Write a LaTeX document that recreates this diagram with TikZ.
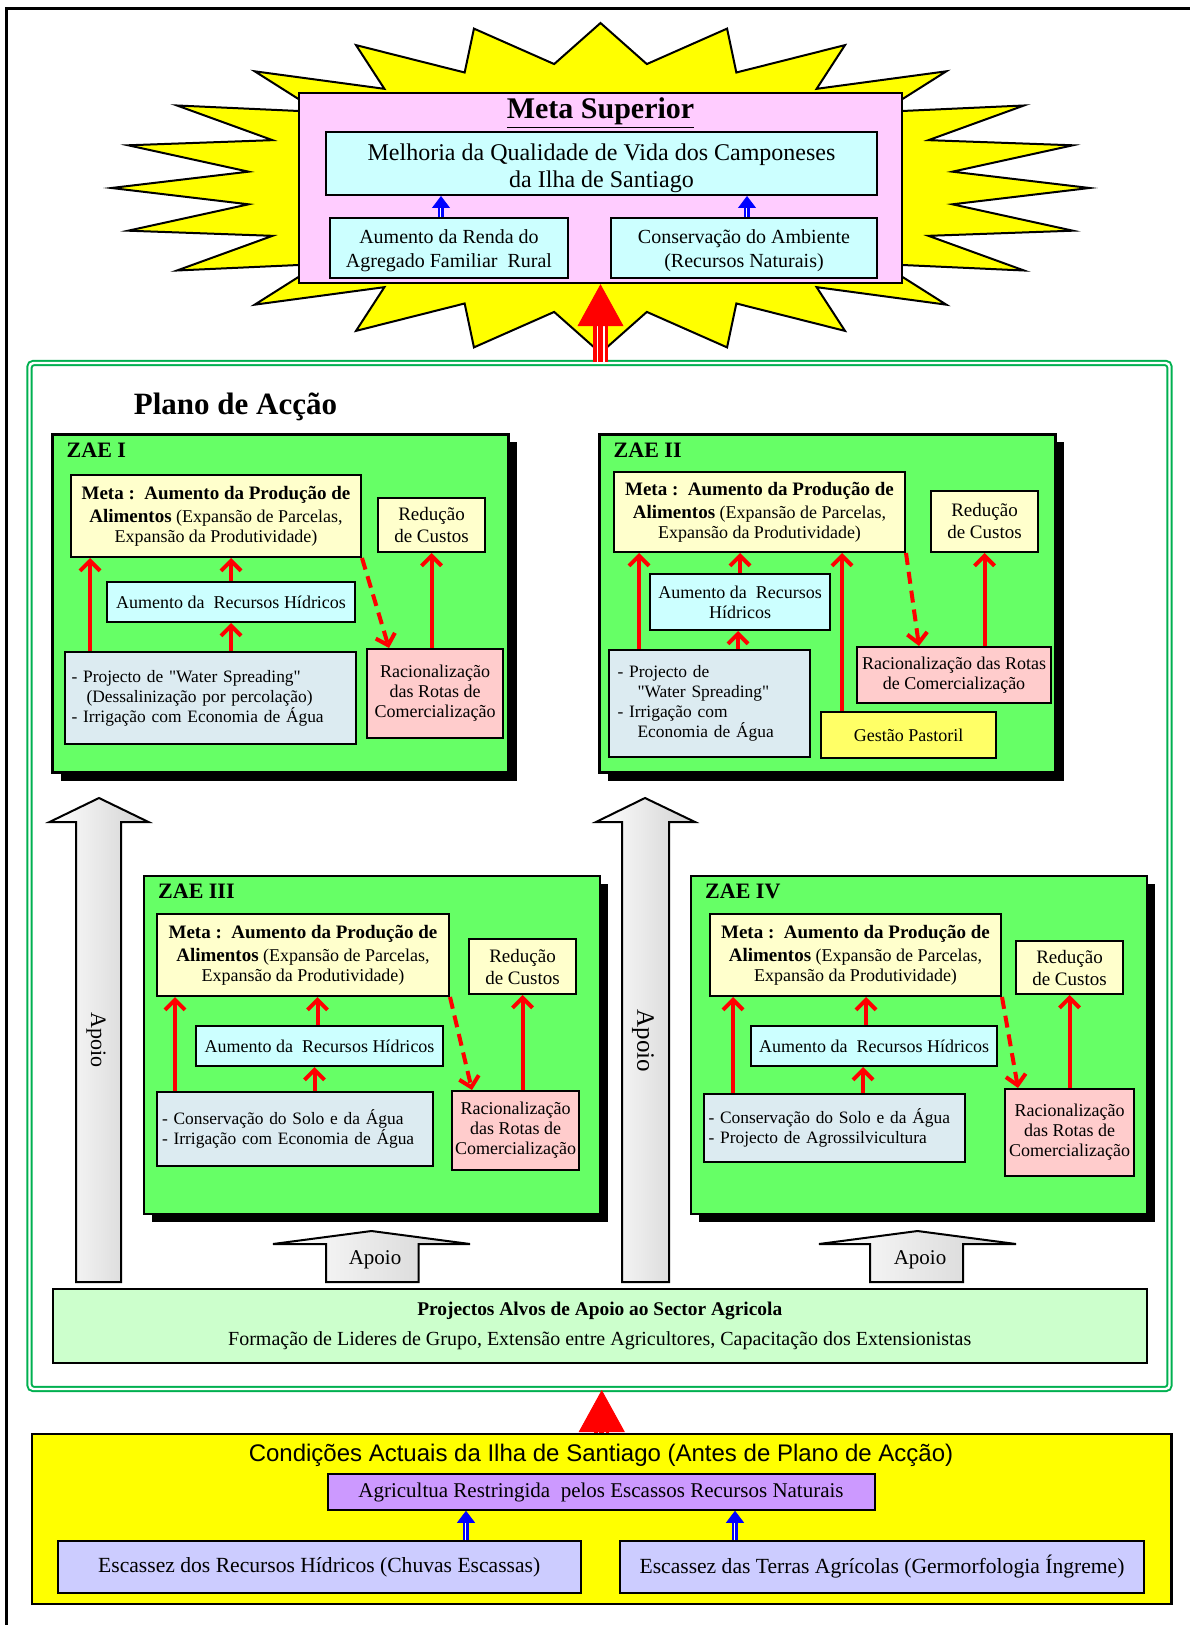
\documentclass[tikz,border=0pt]{standalone}
\usepackage{fontspec}
\setmainfont{Liberation Serif}
\setsansfont{Liberation Sans}
\usetikzlibrary{arrows.meta,shadows}

\definecolor{staryellow}{HTML}{FFFF00}
\definecolor{suppink}{HTML}{FFCCFF}
\definecolor{boxcyan}{HTML}{CCFFFF}
\definecolor{framegreen}{HTML}{00B050}
\definecolor{zaegreen}{HTML}{66FF66}
\definecolor{metacream}{HTML}{FFFFCC}
\definecolor{projblue}{HTML}{DCEBF1}
\definecolor{racpink}{HTML}{FFCCCC}
\definecolor{gestyellow}{HTML}{FFFF66}
\definecolor{alvosgreen}{HTML}{CCFFCC}
\definecolor{condyellow}{HTML}{FFFF00}
\definecolor{agrpurple}{HTML}{CC99FF}
\definecolor{escblue}{HTML}{CCCCFF}

\newcommand{\metatext}{{\bfseries\fontsize{9.5}{11}\selectfont Meta :~~Aumento da Produção de}\\[1.5pt]
  {\bfseries\fontsize{9.5}{10}\selectfont Alimentos} (Expansão de Parcelas,\\Expansão da Produtividade)}

\tikzset{
  box/.style={draw, line width=1pt, inner sep=1pt, align=center},
  zae/.style={draw, line width=1.2pt, fill=zaegreen, minimum width=228pt, minimum height=169pt,
    general shadow={fill=black, shadow xshift=4pt, shadow yshift=-4pt}},
  zaelabel/.style={anchor=base west, inner sep=0pt, font=\bfseries\fontsize{11}{13}\selectfont},
  metabox/.style={box, fill=metacream, font=\fontsize{9}{10}\selectfont},
  redubox/.style={box, fill=metacream, font=\fontsize{9.5}{11}\selectfont},
  aumbox/.style={box, fill=boxcyan, font=\fontsize{9}{10}\selectfont},
  projbox/.style={box, fill=projblue, align=left, inner xsep=2pt, font=\fontsize{8.7}{10}\selectfont},
  racbox/.style={box, fill=racpink, font=\fontsize{9}{10}\selectfont},
  redarr/.style={draw=red, line width=2pt, -{Straight Barb[length=5pt,width=10pt]}},
  reddash/.style={redarr, dash pattern=on 6pt off 3.5pt},
  blueshaft/.style={draw=blue, line width=.7pt, double=white, double distance=1.2pt, shorten >=5pt},
  bluehead/.style={draw=blue, line width=.4pt, -{Triangle[length=6pt,width=9pt]}},
  redtriple/.style={draw=red, line width=1.75pt, double=white, double distance=4pt},
  redmid/.style={draw=red, line width=2.5pt},
  bighead/.style={draw=red, line width=.4pt, -{Triangle[length=21pt,width=23pt]}},
  apoio/.style={draw, line width=1pt, left color=white, right color=black!18},
}

\begin{document}
\begin{tikzpicture}[x=0.5pt, y=-0.5pt]
  \useasboundingbox (0,0) rectangle (1189,1625);
  \draw[line width=1.7pt] (6.7,1640) -- (6.7,8.3) -- (1200,8.3);

  % meta superior
  \filldraw[fill=staryellow, line width=1pt, shift={(600.5,188)}]
    (0:489 and 165) \foreach \a in {0,15,...,345} { -- (\a:489 and 165) -- (\a+7.5:355 and 125) } -- cycle;
  \node[box, fill=suppink, line width=1.2pt, minimum width=301.5pt, minimum height=95pt] (sup) at (600.5,188) {};
  \node[box, fill=boxcyan, minimum width=275.5pt, minimum height=31.5pt, font=\fontsize{12}{13.5}\selectfont] (melhoria) at (601.5,163.5)
    {\rule{0pt}{13pt}Melhoria da Qualidade de Vida dos Camponeses\\da Ilha de Santiago};
  \node[font=\bfseries\fontsize{15}{18}\selectfont] (suptitle) at (600.5,113) {\underline{Meta Superior}};
  \node[box, fill=boxcyan, minimum width=119pt, minimum height=30pt, font=\fontsize{10}{12}\selectfont] (renda) at (449,248)
    {\rule{0pt}{10pt}Aumento da Renda do\\Agregado Familiar~~Rural};
  \node[box, fill=boxcyan, minimum width=133pt, minimum height=30pt, font=\fontsize{10}{12}\selectfont] (ambiente) at (744,248)
    {\rule{0pt}{10pt}Conservação do Ambiente\\(Recursos Naturais)};

  \draw[blueshaft] ([xshift=-4pt]renda.north) -- ([xshift=-4pt]renda.north |- melhoria.south);
  \draw[bluehead] ([xshift=-4pt]renda.north) -- ([xshift=-4pt]renda.north |- melhoria.south);
  \draw[blueshaft] ([xshift=1.5pt]ambiente.north) -- ([xshift=1.5pt]ambiente.north |- melhoria.south);
  \draw[bluehead] ([xshift=1.5pt]ambiente.north) -- ([xshift=1.5pt]ambiente.north |- melhoria.south);

  % plano de accao
  \node[draw=framegreen, double=white, double distance=1.2pt, line width=1pt, rounded corners=2pt,
    minimum width=570pt, minimum height=513pt] (plano) at (599.5,876) {};
  \node[font=\bfseries\fontsize{15.5}{18}\selectfont] (planotitle) at (235.5,407) {Plano de Acção};

  \draw[redtriple] (sup.south |- plano.north) -- ([yshift=-20pt]sup.south);
  \draw[redmid] (sup.south |- plano.north) -- ([yshift=-20pt]sup.south);
  \draw[bighead] (sup.south |- plano.north) -- (sup.south);

  % ZAE I
  \node[zae] (zae1) at (280.5,603.5) {};
  \node[zaelabel] (lab1) at ([xshift=7.5pt,yshift=-12pt]zae1.north west) {ZAE I};
  \node[metabox, minimum width=145pt, minimum height=41pt] (meta1) at (216,516) {\metatext};
  \node[redubox, minimum width=53.5pt, minimum height=27pt] (redu1) at (431.5,525) {Redução\\de Custos};
  \node[aumbox, minimum width=124pt, minimum height=20pt] (aum1) at (231,602) {Aumento da~~Recursos Hídricos};
  \node[projbox, minimum width=145.5pt, minimum height=46pt, text width=139pt, inner xsep=3.25pt] (proj1) at (210.5,698)
    {- Projecto de \textquotedbl Water Spreading\textquotedbl\\\hspace*{7.5pt}(Dessalinização por percolação)\\- Irrigação com Economia de Água};
  \node[racbox, minimum width=68pt, minimum height=44.5pt] (rac1) at (435,693.5) {Racionalização\\das Rotas de\\Comercialização};

  \draw[redarr] ([xshift=13pt]proj1.north west) -- ([xshift=13pt]proj1.north west |- meta1.south);
  \draw[redarr] (aum1.south |- proj1.north) -- (aum1.south);
  \draw[redarr] (aum1.north) -- (aum1.north |- meta1.south);
  \draw[reddash] (meta1.south east) -- ([xshift=11.5pt]rac1.north west);
  \draw[redarr] (redu1.south |- rac1.north) -- (redu1.south);

  % ZAE II
  \node[zae] (zae2) at (827.5,603.5) {};
  \node[zaelabel] (lab2) at ([xshift=7.5pt,yshift=-12pt]zae2.north west) {ZAE II};
  \node[metabox, minimum width=145.5pt, minimum height=40pt] (meta2) at (759.5,512) {\metatext};
  \node[redubox, minimum width=53.5pt, minimum height=30.5pt] (redu2) at (984.5,521.5) {Redução\\de Custos};
  \node[aumbox, minimum width=90pt, minimum height=28pt] (aum2) at (740,602) {Aumento da~~Recursos\\Hídricos};
  \node[projbox, minimum width=100.5pt, minimum height=53.5pt, text width=92pt, inner xsep=4.25pt] (proj2) at (709.5,703.5)
    {- Projecto de\\\hspace*{10pt}\textquotedbl Water Spreading\textquotedbl\\- Irrigação com\\\hspace*{10pt}Economia de Água};
  \node[racbox, minimum width=97pt, minimum height=28pt] (rac2) at (954,675) {Racionalização das Rotas\\de Comercialização};
  \node[box, fill=gestyellow, minimum width=87.5pt, minimum height=23pt, font=\fontsize{9}{10}\selectfont] (gest2) at (908.5,735) {Gestão Pastoril};

  \draw[redarr] ([xshift=15.5pt]proj2.north west) -- ([xshift=15.5pt]proj2.north west |- meta2.south);
  \draw[redarr] ([xshift=-1pt]aum2.south |- proj2.north) -- ([xshift=-1pt]aum2.south);
  \draw[redarr] (aum2.north) -- (aum2.north |- meta2.south);
  \draw[redarr] ([xshift=11pt]gest2.north west) -- ([xshift=11pt]gest2.north west |- meta2.south);
  \draw[reddash] (meta2.south east) -- ([xshift=31.5pt]rac2.north west);
  \draw[redarr] (redu2.south |- rac2.north) -- (redu2.south);

  % ZAE III
  \node[zae] (zae3) at (372,1045) {};
  \node[zaelabel] (lab3) at ([xshift=7.5pt,yshift=-12pt]zae3.north west) {ZAE III};
  \node[metabox, minimum width=146pt, minimum height=41pt] (meta3) at (303,955) {\metatext};
  \node[redubox, minimum width=53.5pt, minimum height=27.5pt] (redu3) at (522.5,966.5) {Redução\\de Custos};
  \node[aumbox, minimum width=123.5pt, minimum height=20pt] (aum3) at (319.5,1046) {Aumento da~~Recursos Hídricos};
  \node[projbox, minimum width=138pt, minimum height=37pt, text width=133pt, inner xsep=2.5pt] (proj3) at (295,1129)
    {- Conservação do Solo e da Água\\- Irrigação com Economia de Água};
  \node[racbox, minimum width=63.5pt, minimum height=39.5pt] (rac3) at (515.5,1130.5) {Racionalização\\das Rotas de\\Comercialização};

  \draw[redarr] ([xshift=9.5pt]proj3.north west) -- ([xshift=9.5pt]proj3.north west |- meta3.south);
  \draw[redarr] ([xshift=-2.5pt]aum3.south |- proj3.north) -- ([xshift=-2.5pt]aum3.south);
  \draw[redarr] ([xshift=-1pt]aum3.north) -- ([xshift=-1pt]aum3.north |- meta3.south);
  \draw[reddash] (meta3.south east) -- ([xshift=10.5pt]rac3.north west);
  \draw[redarr] (redu3.south |- rac3.north) -- (redu3.south);

  % ZAE IV
  \node[zae] (zae4) at (919,1045) {};
  \node[zaelabel] (lab4) at ([xshift=7.5pt,yshift=-12pt]zae4.north west) {ZAE IV};
  \node[metabox, minimum width=145.5pt, minimum height=41pt] (meta4) at (855.5,955) {\metatext};
  \node[redubox, minimum width=53.5pt, minimum height=26.5pt] (redu4) at (1069.5,967.5) {Redução\\de Custos};
  \node[aumbox, minimum width=123pt, minimum height=20pt] (aum4) at (874,1046) {Aumento da~~Recursos Hídricos};
  \node[projbox, minimum width=130.5pt, minimum height=34pt, text width=126pt, inner xsep=2.25pt] (proj4) at (834.5,1128)
    {- Conservação do Solo e da Água\\- Projecto de Agrossilvicultura};
  \node[racbox, minimum width=64.5pt, minimum height=43.5pt] (rac4) at (1069.5,1132.5) {Racionalização\\das Rotas de\\Comercialização};

  \draw[redarr] ([xshift=15pt]proj4.north west) -- ([xshift=15pt]proj4.north west |- meta4.south);
  \draw[redarr] ([xshift=-5.5pt]aum4.south |- proj4.north) -- ([xshift=-5.5pt]aum4.south);
  \draw[redarr] ([xshift=-4pt]aum4.north) -- ([xshift=-4pt]aum4.north |- meta4.south);
  \draw[reddash] (meta4.south east) -- ([xshift=7pt]rac4.north west);
  \draw[redarr] (redu4.south |- rac4.north) -- (redu4.south);

  % apoio
  \draw[apoio] (99,798) -- (148.5,822) -- (121,822) -- (121,1282) -- (76,1282) -- (76,822) -- (49.5,822) -- cycle;
  \draw[apoio] (645,798) -- (695,822) -- (669,822) -- (669,1282) -- (622,1282) -- (622,822) -- (596,822) -- cycle;
  \draw[apoio] (371.5,1231) -- (470,1244) -- (418.5,1244) -- (418.5,1282) -- (326,1282) -- (326,1244) -- (273,1244) -- cycle;
  \draw[apoio] (917.5,1231) -- (1016,1244) -- (963,1244) -- (963,1282) -- (870,1282) -- (870,1244) -- (819,1244) -- cycle;
  \node[rotate=-90, font=\fontsize{11}{13}\selectfont] (apoio1) at (96,1040) {Apoio};
  \node[rotate=-90, font=\fontsize{12.5}{15}\selectfont] (apoio2) at (643,1041) {Apoio};
  \node[font=\fontsize{10.5}{12}\selectfont] (apoio3) at (375,1260) {Apoio};
  \node[font=\fontsize{10.5}{12}\selectfont] (apoio4) at (920,1260) {Apoio};

  \node[box, fill=alvosgreen, minimum width=546.75pt, minimum height=37pt, font=\fontsize{10}{12}\selectfont] (alvos) at (599.75,1326)
    {{\bfseries\fontsize{9.7}{12}\selectfont Projectos Alvos de Apoio ao Sector Agricola}\\[3pt]
     Formação de Lideres de Grupo, Extensão entre Agricultores, Capacitação dos Extensionistas};

  % condicoes actuais
  \node[box, fill=condyellow, line width=1.2pt, minimum width=569.75pt, minimum height=85pt] (cond) at (601.75,1519) {};
  \node[font=\sffamily\fontsize{12}{14}\selectfont] (condtitle) at (601,1455) {Condições Actuais da Ilha de Santiago (Antes de Plano de Acção)};
  \node[box, fill=agrpurple, minimum width=273.5pt, minimum height=17.75pt, font=\fontsize{10.5}{12}\selectfont] (agr) at (601,1492)
    {Agricultua Restringida~~pelos Escassos Recursos Naturais};
  \node[box, fill=escblue, minimum width=261.75pt, minimum height=26pt, font=\fontsize{10.8}{12}\selectfont] (esc1) at (319.25,1567)
    {Escassez dos Recursos Hídricos (Chuvas Escassas)};
  \node[box, fill=escblue, minimum width=262pt, minimum height=26pt, font=\fontsize{10.8}{12}\selectfont] (esc2) at (882,1567)
    {Escassez das Terras Agrícolas (Germorfologia Íngreme)};

  \draw[blueshaft] ([xshift=-67.5pt]agr.south |- esc1.north) -- ([xshift=-67.5pt]agr.south);
  \draw[bluehead] ([xshift=-67.5pt]agr.south |- esc1.north) -- ([xshift=-67.5pt]agr.south);
  \draw[blueshaft] ([xshift=67pt]agr.south |- esc2.north) -- ([xshift=67pt]agr.south);
  \draw[bluehead] ([xshift=67pt]agr.south |- esc2.north) -- ([xshift=67pt]agr.south);

  \draw[redtriple] (cond.north) -- ([yshift=-18pt]cond.north |- plano.south);
  \draw[redmid] (cond.north) -- ([yshift=-18pt]cond.north |- plano.south);
  \draw[bighead] (cond.north) -- (cond.north |- plano.south);
\end{tikzpicture}
\end{document}
